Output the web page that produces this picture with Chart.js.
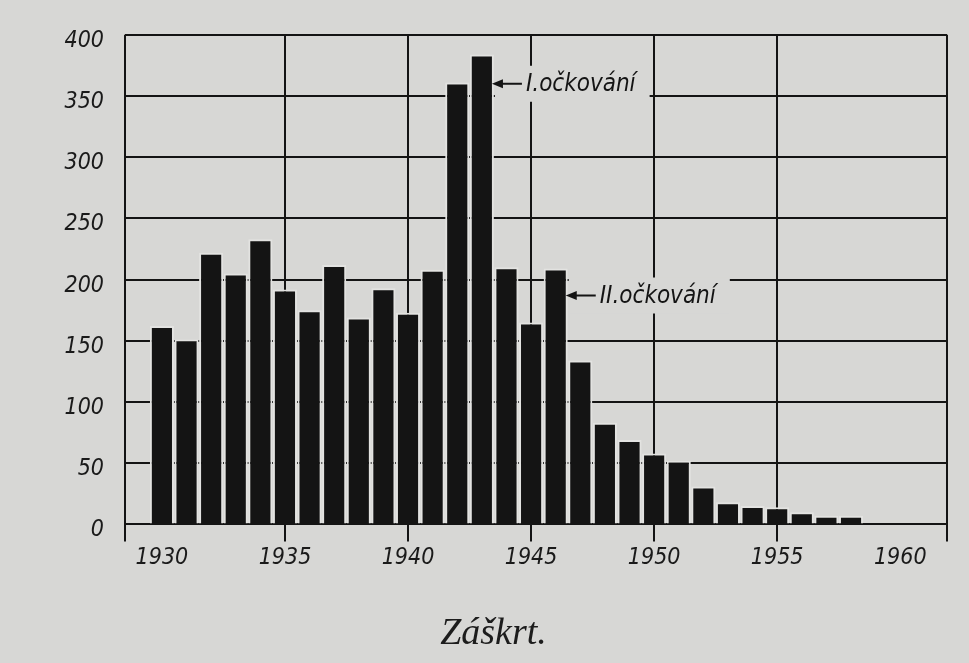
<!DOCTYPE html>
<html>
<head>
<meta charset="utf-8">
<script src="https://cdn.jsdelivr.net/npm/chart.js@4/dist/chart.umd.min.js"></script>
<style>
  html, body { margin: 0; padding: 0; background: #d7d7d5; }
  #wrap { width: 969px; height: 663px; }
</style>
</head>
<body>
<div id="wrap"><canvas id="c" width="969" height="663"></canvas></div>
<script>
// ---- data ----
const years = [1930, 1931, 1932, 1933, 1934, 1935, 1936, 1937, 1938, 1939,
               1940, 1941, 1942, 1943, 1944, 1945, 1946, 1947, 1948, 1949,
               1950, 1951, 1952, 1953, 1954, 1955, 1956, 1957, 1958];
const cases = [162, 151, 222, 205, 233, 192, 175, 212, 169, 193,
               173, 208, 361, 384, 210, 165, 209, 134, 83, 69,
               58, 52, 31, 18, 15, 14, 10, 7, 7];
const xTickYears = [1930, 1935, 1940, 1945, 1950, 1955, 1960];
const yTickValues = [0, 50, 100, 150, 200, 250, 300, 350, 400];
const noteYears = [1943, 1946];
const noteValues = [360, 187];
const noteTexts = ['I.očkování', 'II.očkování'];
const titleText = 'Záškrt.';

// ---- styling ----
const PAPER = '#d7d7d5';
const HALO = '#e3e3e1';
const INK = '#141414';
const HAND = "'DejaVu Sans Condensed', 'Liberation Sans Narrow', 'DejaVu Sans', sans-serif";

const paperPlugin = {
  id: 'paper',
  beforeDraw(chart) {
    const ctx = chart.ctx;
    ctx.save();
    ctx.fillStyle = PAPER;
    ctx.fillRect(0, 0, chart.width, chart.height);
    ctx.restore();
  }
};

const notePlugin = {
  id: 'notes',
  afterDatasetsDraw(chart) {
    const ctx = chart.ctx;
    const meta = chart.getDatasetMeta(0);
    const ys = chart.scales.y;
    ctx.save();
    ctx.font = 'italic 24px ' + HAND;
    noteYears.forEach((yr, k) => {
      const el = meta.data[years.indexOf(yr)];
      const tipX = el.x + el.width / 2 - 2;
      const y = ys.getPixelForValue(noteValues[k]);
      const tail = tipX + 30;
      const textX = tail + 4;
      const w = ctx.measureText(noteTexts[k]).width;
      // paper mask behind the label (interrupts grid lines like the original)
      ctx.fillStyle = PAPER;
      ctx.fillRect(tipX + 3, y - 18, textX + w + 14 - (tipX + 3), 36);
      // arrow
      ctx.strokeStyle = INK;
      ctx.fillStyle = INK;
      ctx.lineWidth = 2;
      ctx.beginPath();
      ctx.moveTo(tipX + 8, y);
      ctx.lineTo(tail, y);
      ctx.stroke();
      ctx.beginPath();
      ctx.moveTo(tipX, y);
      ctx.lineTo(tipX + 11, y - 4.5);
      ctx.lineTo(tipX + 11, y + 4.5);
      ctx.closePath();
      ctx.fill();
      // text
      ctx.textBaseline = 'alphabetic';
      ctx.textAlign = 'left';
      ctx.fillText(noteTexts[k], textX, y + 7);
    });
    ctx.restore();
  }
};

const gridColor = (ctx) => {
  const v = ctx.tick ? ctx.tick.value : null;
  return (v === 1930 || v === 1960) ? 'rgba(0,0,0,0)' : INK;
};

new Chart(document.getElementById('c'), {
  type: 'bar',
  data: {
    datasets: [{
      data: years.map((yr, i) => ({ x: yr, y: cases[i] })),
      backgroundColor: INK,
      borderColor: HALO,
      borderWidth: 2,
      borderSkipped: 'start',
      categoryPercentage: 1.0,
      barPercentage: 0.98
    }]
  },
  options: {
    responsive: false,
    animation: false,
    devicePixelRatio: 1,
    layout: { padding: { top: 30, right: 22, bottom: 0, left: 40 } },
    plugins: {
      legend: { display: false },
      tooltip: { enabled: false },
      title: {
        display: true,
        text: titleText,
        position: 'bottom',
        color: '#1c1c1c',
        font: { family: "'Liberation Serif', 'DejaVu Serif', serif", style: 'italic', weight: 'normal', size: 38 },
        padding: { top: 37, bottom: 6 }
      }
    },
    scales: {
      x: {
        type: 'linear',
        min: 1928.5,
        max: 1961.9,
        offset: false,
        afterBuildTicks(s) {
          s.ticks = [s.min, ...xTickYears, s.max].map(v => ({ value: v }));
        },
        afterFit(s) { s.height = 50; },
        ticks: {
          autoSkip: false,
          maxRotation: 0,
          padding: 3,
          color: '#1a1a1a',
          font: { family: HAND, style: 'italic', size: 23 },
          callback: (v) => xTickYears.includes(v) ? String(v) : ''
        },
        grid: {
          offset: false,
          color: gridColor,
          tickColor: gridColor,
          lineWidth: 2,
          drawTicks: true,
          tickLength: 17
        },
        border: { display: false }
      },
      y: {
        min: 0,
        max: 400,
        afterBuildTicks(s) {
          s.ticks = yTickValues.map(v => ({ value: v }));
        },
        afterFit(s) { s.width = 85; },
        ticks: {
          padding: 21,
          labelOffset: 6,
          color: '#1a1a1a',
          font: { family: HAND, style: 'italic', size: 23 },
          callback: (v) => String(v)
        },
        grid: {
          color: INK,
          lineWidth: 2,
          drawTicks: false
        },
        border: { display: false }
      }
    }
  },
  plugins: [paperPlugin, notePlugin]
});
</script>
</body>
</html>
